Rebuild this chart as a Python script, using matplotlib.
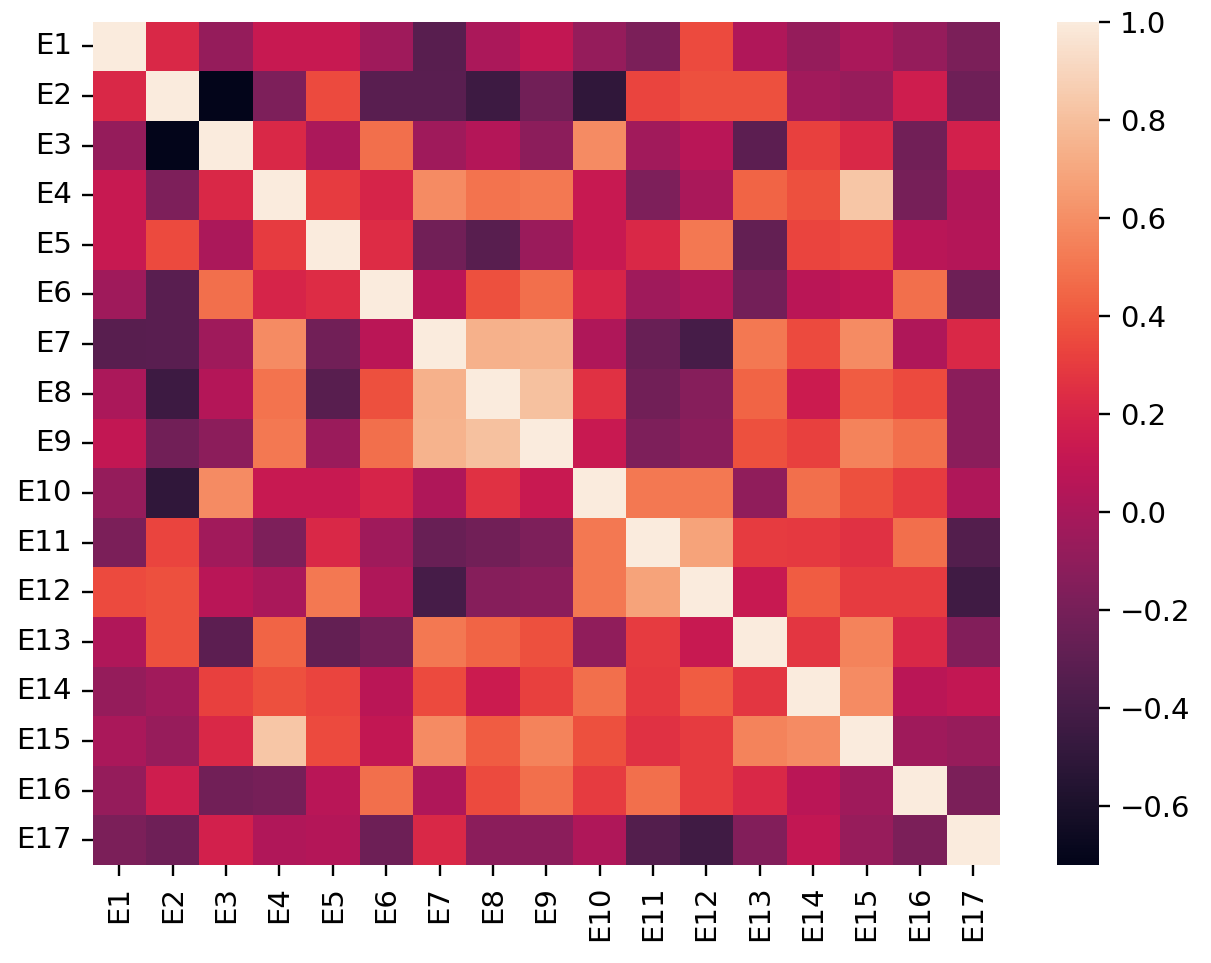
import numpy as np
import pandas as pd
import seaborn as sns
import matplotlib.pyplot as plt

labels = ['E%d' % i for i in range(1, 18)]

# correlation rows (symmetric)
E1 = [1.00, 0.22, -0.08, 0.12, 0.12, -0.04, -0.33, 0.01, 0.10, -0.08, -0.18, 0.35, 0.03, -0.08, 0.00, -0.08, -0.18]
E2 = [0.22, 1.00, -0.72, -0.17, 0.35, -0.32, -0.32, -0.44, -0.22, -0.50, 0.33, 0.37, 0.37, -0.03, -0.07, 0.16, -0.23]
E3 = [-0.08, -0.72, 1.00, 0.22, 0.01, 0.48, -0.04, 0.04, -0.11, 0.59, -0.03, 0.06, -0.31, 0.32, 0.22, -0.22, 0.18]
E4 = [0.12, -0.17, 0.22, 1.00, 0.30, 0.20, 0.59, 0.49, 0.51, 0.12, -0.17, 0.00, 0.44, 0.37, 0.83, -0.20, 0.03]
E5 = [0.12, 0.35, 0.01, 0.30, 1.00, 0.24, -0.22, -0.33, -0.06, 0.12, 0.22, 0.51, -0.28, 0.33, 0.35, 0.06, 0.04]
E6 = [-0.04, -0.32, 0.48, 0.20, 0.24, 1.00, 0.07, 0.37, 0.48, 0.20, -0.04, 0.02, -0.21, 0.07, 0.10, 0.48, -0.24]
E7 = [-0.33, -0.32, -0.04, 0.59, -0.22, 0.07, 1.00, 0.74, 0.75, 0.02, -0.26, -0.40, 0.51, 0.35, 0.59, 0.02, 0.22]
E8 = [0.01, -0.44, 0.04, 0.49, -0.33, 0.37, 0.74, 1.00, 0.81, 0.26, -0.22, -0.14, 0.44, 0.14, 0.41, 0.35, -0.12]
E9 = [0.10, -0.22, -0.11, 0.51, -0.06, 0.48, 0.75, 0.81, 1.00, 0.13, -0.17, -0.12, 0.37, 0.32, 0.55, 0.48, -0.12]
E10 = [-0.08, -0.50, 0.59, 0.12, 0.12, 0.20, 0.02, 0.26, 0.13, 1.00, 0.51, 0.51, -0.10, 0.48, 0.37, 0.30, 0.02]
E11 = [-0.18, 0.33, -0.03, -0.17, 0.22, -0.04, -0.26, -0.22, -0.17, 0.51, 1.00, 0.68, 0.30, 0.29, 0.26, 0.48, -0.35]
E12 = [0.35, 0.37, 0.06, 0.00, 0.51, 0.02, -0.40, -0.14, -0.12, 0.51, 0.68, 1.00, 0.12, 0.41, 0.30, 0.30, -0.43]
E13 = [0.03, 0.37, -0.31, 0.44, -0.28, -0.21, 0.51, 0.44, 0.37, -0.10, 0.30, 0.12, 1.00, 0.28, 0.55, 0.22, -0.15]
E14 = [-0.08, -0.03, 0.32, 0.37, 0.33, 0.07, 0.35, 0.14, 0.32, 0.48, 0.29, 0.41, 0.28, 1.00, 0.59, 0.07, 0.10]
E15 = [0.00, -0.07, 0.22, 0.83, 0.35, 0.10, 0.59, 0.41, 0.55, 0.37, 0.26, 0.30, 0.55, 0.59, 1.00, -0.04, -0.07]
E16 = [-0.08, 0.16, -0.22, -0.20, 0.06, 0.48, 0.02, 0.35, 0.48, 0.30, 0.48, 0.30, 0.22, 0.07, -0.04, 1.00, -0.18]
E17 = [-0.18, -0.23, 0.18, 0.03, 0.04, -0.24, 0.22, -0.12, -0.12, 0.02, -0.35, -0.43, -0.15, 0.10, -0.07, -0.18, 1.00]

rows = [E1, E2, E3, E4, E5, E6, E7, E8, E9, E10, E11, E12, E13, E14, E15, E16, E17]
corr = pd.DataFrame(rows, index=labels, columns=labels)

fig = plt.figure(figsize=(12.11, 9.63), dpi=100)
ax = fig.add_axes([0.0765, 0.1018, 0.7493, 0.8757])
cax = fig.add_axes([0.8728, 0.1018, 0.0347, 0.8757])

sns.heatmap(corr, ax=ax, cbar_ax=cax, cmap='rocket')

ax.tick_params(labelsize=21, length=8, width=1.7, pad=7)
ax.set_xticklabels(labels, rotation=90)
ax.set_yticklabels(labels, rotation=0)
cax.tick_params(labelsize=21, length=8, width=1.7, pad=7)
cax.set_yticks([-0.6, -0.4, -0.2, 0.0, 0.2, 0.4, 0.6, 0.8, 1.0])

fig.savefig('out.png', dpi=100)
